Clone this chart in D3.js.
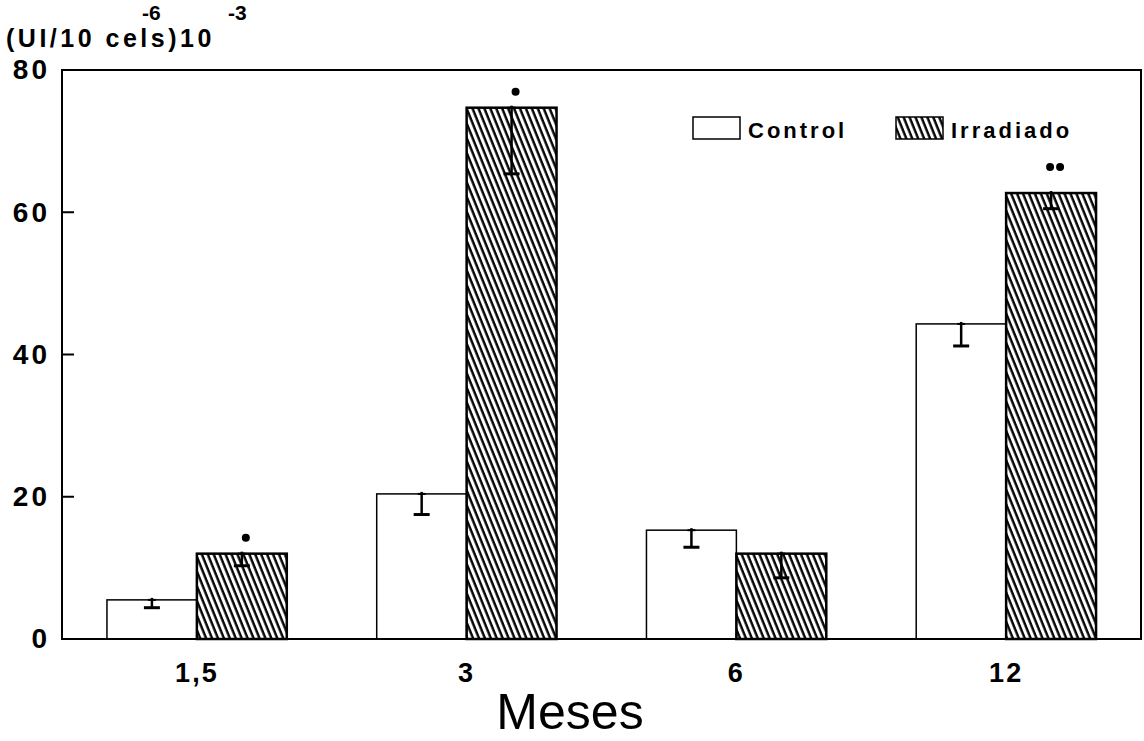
<!DOCTYPE html>
<html>
<head>
<meta charset="utf-8">
<script src="https://cdn.jsdelivr.net/npm/d3@7"></script>
<style>
  body { margin: 0; background: #fff; }
  text { font-family: "Liberation Sans", Arial, Helvetica, sans-serif; fill: #000; }
</style>
</head>
<body>
<script>
// data
var months = ["1,5", "3", "6", "12"];
var control = [5.5, 20.4, 15.3, 44.3];
var irradiado = [12.0, 74.7, 12.0, 62.7];
var controlErr = [1.1, 2.9, 2.4, 3.1];
var irradiadoErr = [1.7, 9.3, 3.4, 2.2];
var irradiadoSig = ["*", "*", "", "**"];
var yTicks = [0, 20, 40, 60, 80];
var seriesNames = ["Control", "Irradiado"];

var width = 1144, height = 741;
var margin = {top: 70, right: 3, bottom: 102, left: 62};

var svg = d3.select("body").append("svg")
    .attr("width", width)
    .attr("height", height);

// hatch for irradiado bars
var defs = svg.append("defs");
defs.append("pattern")
    .attr("id", "hatch")
    .attr("patternUnits", "userSpaceOnUse")
    .attr("width", 5.5)
    .attr("height", 20)
    .attr("patternTransform", "rotate(-22)")
    .append("line")
    .attr("x1", 1.5).attr("y1", -5)
    .attr("x2", 1.5).attr("y2", 25)
    .attr("stroke", "#000")
    .attr("stroke-width", 2.4);

var x = d3.scaleBand()
    .domain(months)
    .range([margin.left, width - margin.right])
    .paddingInner(1 / 3)
    .paddingOuter(1 / 6);

var x1 = d3.scaleBand()
    .domain(seriesNames)
    .range([0, x.bandwidth()]);

var y = d3.scaleLinear()
    .domain([0, 80])
    .range([height - margin.bottom, margin.top]);

var rows = months.map(function (m, i) {
    return [
        {m: m, key: "Control", v: control[i], e: controlErr[i], sig: ""},
        {m: m, key: "Irradiado", v: irradiado[i], e: irradiadoErr[i], sig: irradiadoSig[i]}
    ];
});
var flat = [].concat.apply([], rows);

// bars
svg.append("g")
    .selectAll("rect")
    .data(flat)
    .join("rect")
    .attr("x", d => x(d.m) + x1(d.key))
    .attr("y", d => y(d.v))
    .attr("width", x1.bandwidth())
    .attr("height", d => y(0) - y(d.v))
    .attr("fill", d => d.key === "Control" ? "#fff" : "url(#hatch)")
    .attr("stroke", "#000")
    .attr("stroke-width", d => d.key === "Control" ? 1.5 : 2.5);

// error bars (lower half only)
var eb = svg.append("g")
    .attr("stroke", "#000")
    .selectAll("g")
    .data(flat)
    .join("g")
    .attr("transform", d => `translate(${x(d.m) + x1(d.key) + x1.bandwidth() / 2},0)`);
eb.append("line")
    .attr("y1", d => y(d.v) - 2)
    .attr("y2", d => y(d.v - d.e))
    .attr("stroke-width", 2.5);
eb.append("line")
    .attr("x1", -8).attr("x2", 8)
    .attr("y1", d => y(d.v - d.e))
    .attr("y2", d => y(d.v - d.e))
    .attr("stroke-width", 3);
eb.append("line")
    .attr("x1", -4).attr("x2", 4)
    .attr("y1", d => y(d.v))
    .attr("y2", d => y(d.v))
    .attr("stroke-width", 2);

// significance dots
eb.each(function (d) {
    var n = d.sig.length;
    for (var k = 0; k < n; k++) {
        d3.select(this).append("circle")
            .attr("cx", 4 + (k - (n - 1) / 2) * 10)
            .attr("cy", y(d.v) - 16 - (n - 1) * 10)
            .attr("r", 4)
            .attr("fill", "#000")
            .attr("stroke", "none");
    }
});

// frame
svg.append("rect")
    .attr("x", margin.left)
    .attr("y", margin.top)
    .attr("width", width - margin.right - margin.left)
    .attr("height", y(0) - margin.top)
    .attr("fill", "none")
    .attr("stroke", "#000")
    .attr("stroke-width", 2);

// y axis, ticks pointing inward
var yAxis = svg.append("g")
    .attr("transform", `translate(${margin.left},0)`)
    .call(d3.axisLeft(y).tickValues(yTicks).tickSize(0).tickPadding(12));
yAxis.select(".domain").remove();
yAxis.selectAll("text")
    .style("font-size", "28px")
    .style("font-weight", "bold")
    .style("letter-spacing", "3px")
    .attr("fill", "#000");
svg.append("g")
    .selectAll("line")
    .data(yTicks.filter(t => t > 0 && t < 80))
    .join("line")
    .attr("x1", margin.left).attr("x2", margin.left + 12)
    .attr("y1", d => y(d)).attr("y2", d => y(d))
    .attr("stroke", "#000")
    .attr("stroke-width", 2);

// x axis labels
var xAxis = svg.append("g")
    .attr("transform", `translate(0,${y(0)})`)
    .call(d3.axisBottom(x).tickSize(0).tickPadding(24));
xAxis.select(".domain").remove();
xAxis.selectAll("text")
    .style("font-size", "27px")
    .style("font-weight", "bold")
    .style("letter-spacing", "2px")
    .attr("fill", "#000");

svg.append("text")
    .attr("x", 570)
    .attr("y", 729)
    .attr("text-anchor", "middle")
    .style("font-size", "50px")
    .text("Meses");

// y unit label
var unit = svg.append("g").style("font-weight", "bold").style("font-size", "25px");
unit.append("text")
    .attr("x", 6).attr("y", 47)
    .style("letter-spacing", "3.5px")
    .text("(UI/10 cels)10");
unit.append("text")
    .attr("x", 142).attr("y", 20)
    .style("font-size", "21px")
    .text("-6");
unit.append("text")
    .attr("x", 228).attr("y", 20)
    .style("font-size", "21px")
    .text("-3");

// legend
var legend = svg.append("g")
    .selectAll("g")
    .data(seriesNames)
    .join("g")
    .attr("transform", (d, i) => `translate(${693 + i * 203},117)`);
legend.append("rect")
    .attr("width", 47)
    .attr("height", 22)
    .attr("fill", d => d === "Control" ? "#fff" : "url(#hatch)")
    .attr("stroke", "#000")
    .attr("stroke-width", 1.5);
legend.append("text")
    .attr("x", 55)
    .attr("y", 21)
    .style("font-size", "22px")
    .style("font-weight", "bold")
    .style("letter-spacing", "3px")
    .text(d => d);
</script>
</body>
</html>
